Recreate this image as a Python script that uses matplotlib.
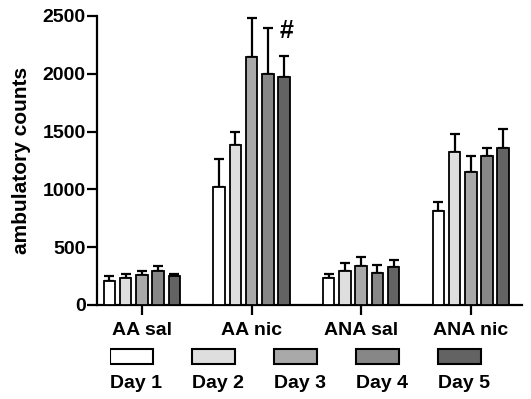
import numpy as np
import matplotlib.pyplot as plt

plt.rcParams['font.family'] = ['Liberation Sans', 'DejaVu Sans']
plt.rcParams['font.weight'] = 'bold'

groups = ["AA sal", "AA nic", "ANA sal", "ANA nic"]
days = ["Day 1", "Day 2", "Day 3", "Day 4", "Day 5"]
colors = ["#ffffff", "#dedede", "#a9a9a9", "#878787", "#636363"]

# mean ambulatory counts, rows = days, columns = groups
means = [
    [210, 1025, 231, 817],
    [237, 1387, 297, 1320],
    [257, 2143, 341, 1150],
    [297, 2002, 275, 1285],
    [250, 1973, 332, 1358],
]
# SEM (upper bars only)
sems = [
    [37, 238, 38, 70],
    [32, 106, 64, 159],
    [38, 342, 72, 141],
    [44, 390, 72, 73],
    [22, 179, 58, 165],
]

def main():
    fig = plt.figure(figsize=(5.31, 3.99), dpi=100)
    ax = fig.add_axes([0.182, 0.2356, 0.801, 0.7243])

    x = np.arange(len(groups))
    step = 0.148
    width = 0.105
    for i, day in enumerate(days):
        pos = x + (i - 2) * step
        ax.bar(pos, means[i], width=width, color=colors[i], edgecolor="black",
               linewidth=1.3, zorder=3,
               yerr=[np.zeros(len(groups)), sems[i]],
               error_kw=dict(elinewidth=1.6, capsize=3.5, capthick=1.6,
                             ecolor="black", zorder=2))

    # significance mark above AA nic, day 5
    ax.text(1 + 2 * step + 0.02, 2370, "#", ha="center", va="center",
            fontsize=18, fontweight="bold")

    ax.set_xlim(-0.413, 3.467)
    ax.set_ylim(0, 2500)
    ax.set_yticks([0, 500, 1000, 1500, 2000, 2500])
    ax.set_xticks(x)
    ax.set_xticklabels(groups, fontsize=14, fontweight="bold")
    ax.tick_params(axis="y", labelsize=14, length=7, width=1.6, pad=1)
    ax.tick_params(axis="x", length=7, width=1.6, pad=5)
    for lab in ax.get_yticklabels():
        lab.set_fontweight("bold")
    ax.set_ylabel("ambulatory counts", fontsize=15, fontweight="bold", labelpad=8)
    ax.spines[['right', 'top']].set_visible(False)
    ax.spines[['left', 'bottom']].set_linewidth(1.6)

    # legend: swatches with labels underneath
    lax = fig.add_axes([110 / 531, 4 / 399, 410 / 531, 55 / 399])
    lax.set_xlim(0, 5)
    lax.set_ylim(0, 55)
    lax.axis("off")
    for i, day in enumerate(days):
        lax.bar(i, 15, bottom=31, width=0.52, align="edge",
                color=colors[i], edgecolor="black", linewidth=1.5)
        lax.text(i, 11, day, ha="left", va="center", fontsize=14,
                 fontweight="bold")

    fig.savefig("out.png", dpi=100)

if __name__ == "__main__":
    main()
